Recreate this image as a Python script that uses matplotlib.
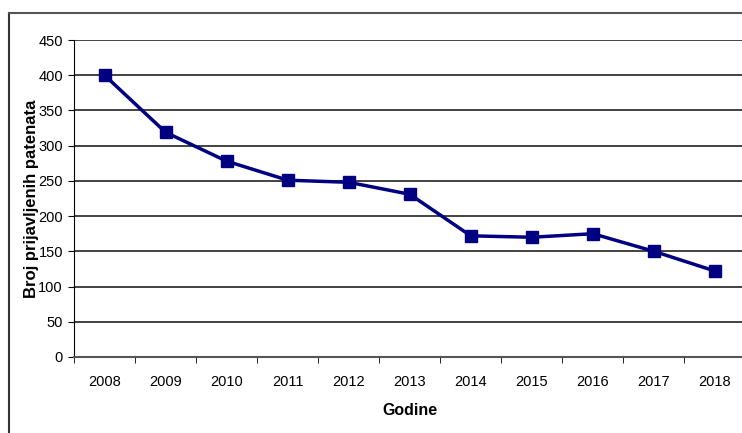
import numpy as np
import matplotlib.pyplot as plt
from matplotlib.lines import Line2D

plt.rcParams['font.family'] = ['Liberation Sans', 'DejaVu Sans']

godine = ['2008', '2009', '2010', '2011', '2012', '2013', '2014', '2015', '2016', '2017', '2018']
patenti = [400, 319, 278, 251, 248, 231, 172, 170, 175, 150, 122]
y_ticks = list(range(0, 451, 50))

fig = plt.figure(figsize=(7.42, 4.33), dpi=100)
ax = fig.add_axes([74 / 742, 1 - 357 / 433, 671.5 / 742, 317 / 433])

x = np.arange(len(godine))
ax.plot(x, patenti, color='#000080', linewidth=2.5, marker='s', markersize=8,
        markerfacecolor='#000080', markeredgecolor='#000080', zorder=3, clip_on=False)

ax.set_xlim(-0.5, len(godine) - 0.5)
ax.set_ylim(0, 450)
ax.set_yticks(y_ticks)
ax.set_xticks(x)
ax.set_xticklabels(godine)
ax.set_xticks(np.arange(-0.5, len(godine), 1), minor=True)
ax.tick_params(axis='x', which='major', length=0, pad=13, labelsize=10.5)
ax.tick_params(axis='x', which='minor', length=4, color='black', direction='out')
ax.tick_params(axis='y', length=4, color='black', labelsize=10.5, pad=4)

ax.yaxis.grid(True, color='#222222', linewidth=1.2)
ax.set_axisbelow(True)
for s in ['top', 'right']:
    ax.spines[s].set_visible(False)
ax.spines['left'].set_color('black')
ax.spines['bottom'].set_color('#555555')
ax.spines['bottom'].set_linewidth(1.5)

ax.set_ylabel('Broj prijavljenih patenata', fontweight='bold', fontsize=12)
ax.yaxis.set_label_coords((39 - 74) / 671.5, 0.5)
ax.set_xlabel('Godine', fontweight='bold', fontsize=11.5, labelpad=10)

# frame around chart area (only left and top visible)
fig.add_artist(Line2D([9 / 742, 9 / 742], [0, 1 - 13 / 433], transform=fig.transFigure,
                      color='#333333', linewidth=1.5))
fig.add_artist(Line2D([9 / 742, 1], [1 - 13 / 433, 1 - 13 / 433], transform=fig.transFigure,
                      color='#555555', linewidth=1.5))

fig.savefig('out.png', dpi=100)
